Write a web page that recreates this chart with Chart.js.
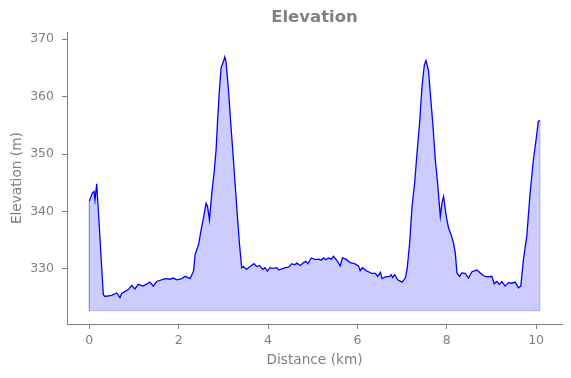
<!DOCTYPE html>
<html>
<head>
<meta charset="utf-8">
<script src="https://cdn.jsdelivr.net/npm/chart.js@4/dist/chart.umd.min.js"></script>
<style>
  body { margin: 0; background: #fff; }
</style>
</head>
<body>
<canvas id="myChart" width="571" height="378"></canvas>
<script>
// Distance along the route (km) and elevation (m)
var distance = [
  0.00, 0.067, 0.105, 0.127, 0.165, 0.188, 0.313, 0.351, 0.500, 0.612,
  0.686, 0.724, 0.871, 0.947, 1.021, 1.094, 1.206, 1.356, 1.430, 1.505,
  1.698, 1.803, 1.876, 1.959, 2.071, 2.144, 2.256, 2.332, 2.368, 2.444,
  2.495, 2.555, 2.613, 2.645, 2.689, 2.741, 2.792, 2.837, 2.868, 2.913,
  2.948, 3.002, 3.031, 3.060, 3.114, 3.165, 3.210, 3.261, 3.315, 3.359,
  3.411, 3.449, 3.522, 3.596, 3.686, 3.746, 3.806, 3.880, 3.931, 3.985,
  4.043, 4.103, 4.199, 4.237, 4.387, 4.461, 4.534, 4.595, 4.646, 4.722,
  4.796, 4.847, 4.892, 4.968, 5.057, 5.131, 5.191, 5.242, 5.294, 5.354,
  5.414, 5.466, 5.539, 5.615, 5.667, 5.740, 5.839, 5.935, 6.024, 6.062,
  6.113, 6.218, 6.330, 6.404, 6.455, 6.516, 6.553, 6.627, 6.723, 6.755,
  6.790, 6.835, 6.902, 7.000, 7.074, 7.112, 7.170, 7.224, 7.282, 7.335,
  7.393, 7.447, 7.498, 7.536, 7.594, 7.632, 7.693, 7.744, 7.795, 7.856,
  7.894, 7.929, 7.990, 8.041, 8.095, 8.153, 8.191, 8.229, 8.287, 8.340,
  8.413, 8.488, 8.564, 8.675, 8.765, 8.823, 8.912, 9.010, 9.062, 9.122,
  9.180, 9.234, 9.307, 9.381, 9.457, 9.531, 9.605, 9.658, 9.716, 9.792,
  9.866, 9.940, 10.000, 10.051, 10.089
];
var elevation = [
  341.8, 343.2, 343.5, 342.0, 344.8, 341.9, 325.5, 325.2, 325.4, 325.8,
  325.0, 325.7, 326.4, 327.1, 326.5, 327.3, 327.0, 327.7, 327.0, 327.8,
  328.3, 328.2, 328.4, 328.1, 328.3, 328.7, 328.3, 329.6, 332.5, 334.2,
  336.5, 338.9, 341.4, 340.9, 338.5, 343.2, 346.7, 350.7, 355.4, 361.2,
  365.0, 366.1, 366.9, 366.1, 361.2, 355.4, 350.7, 345.0, 339.1, 334.5,
  330.2, 330.4, 329.9, 330.4, 330.9, 330.4, 330.6, 329.9, 330.2, 329.6,
  330.2, 330.1, 330.2, 329.8, 330.2, 330.3, 330.9, 330.7, 331.0, 330.6,
  331.1, 331.3, 330.9, 331.9, 331.6, 331.7, 331.5, 331.9, 331.6, 331.9,
  331.7, 332.2, 331.5, 330.5, 331.9, 331.7, 331.1, 330.9, 330.5, 329.7,
  330.2, 329.6, 329.2, 329.2, 328.7, 329.4, 328.3, 328.6, 328.7, 329.0,
  328.5, 329.0, 328.1, 327.7, 328.4, 329.9, 334.5, 340.9, 345.0, 350.2,
  355.4, 361.8, 365.5, 366.3, 364.4, 360.6, 354.8, 349.0, 345.0, 339.1,
  341.5, 342.6, 339.1, 337.1, 336.0, 334.5, 332.8, 329.3, 328.7, 329.3,
  329.2, 328.4, 329.5, 329.8, 329.2, 328.8, 328.6, 328.7, 327.4, 327.8,
  327.3, 327.8, 327.0, 327.6, 327.5, 327.7, 326.7, 327.0, 331.6, 335.7,
  343.2, 349.0, 352.5, 355.7, 355.8
];
var fillBase = 322.7;
var xTicks = [0, 2, 4, 6, 8, 10];
var yTicks = [330, 340, 350, 360, 370];

var grey = "#808080";
var fontFamily = "'DejaVu Sans', sans-serif";

var profile = distance.map(function (d, i) {
  return { x: d, y: elevation[i] };
});
var last = distance.length - 1;
// outline of the filled area (sides and bottom)
var outline = [
  { x: distance[0], y: elevation[0] },
  { x: distance[0], y: fillBase },
  { x: distance[last], y: fillBase },
  { x: distance[last], y: elevation[last] },
];

var ctx = document.getElementById("myChart").getContext("2d");

var myChart = new Chart(ctx, {
  type: "line",
  data: {
    datasets: [
      {
        label: "Elevation",
        data: profile,
        borderColor: "#0000ff",
        borderWidth: 1.3,
        backgroundColor: "rgba(0, 0, 255, 0.2)",
        fill: { value: fillBase },
        pointRadius: 0,
        tension: 0,
      },
      {
        label: "outline",
        data: outline,
        borderColor: "rgba(0, 0, 255, 0.22)",
        borderWidth: 1,
        fill: false,
        pointRadius: 0,
      },
    ],
  },
  options: {
    responsive: false,
    animation: false,
    devicePixelRatio: 1,
    layout: { padding: { left: 0, right: 9, top: 0, bottom: 0 } },
    plugins: {
      legend: { display: false },
      tooltip: { enabled: false },
      title: {
        display: true,
        fullSize: false, // centre over the plot area, not the canvas
        text: "Elevation",
        color: grey,
        font: { family: fontFamily, size: 16.5, weight: "bold" },
        padding: { top: 8, bottom: 4.5 },
      },
    },
    scales: {
      x: {
        type: "linear",
        min: -0.5,
        max: 10.58,
        afterBuildTicks: function (scale) {
          scale.ticks = xTicks.map(function (v) { return { value: v }; });
        },
        afterFit: function (scale) {
          scale.height = 54;
        },
        grid: { drawOnChartArea: false, drawTicks: true, tickLength: 5, color: grey },
        border: { display: true, color: grey, width: 1 },
        ticks: { color: grey, font: { family: fontFamily, size: 12.5 }, padding: 4, maxRotation: 0 },
        title: {
          display: true,
          text: "Distance (km)",
          color: grey,
          font: { family: fontFamily, size: 13.7 },
          padding: { top: 0, bottom: 9 },
        },
      },
      y: {
        type: "linear",
        min: 320.4,
        max: 371.2,
        afterBuildTicks: function (scale) {
          scale.ticks = yTicks.map(function (v) { return { value: v }; });
        },
        afterFit: function (scale) {
          scale.width = 67;
        },
        grid: { drawOnChartArea: false, drawTicks: true, tickLength: 5, color: grey },
        border: { display: true, color: grey, width: 1 },
        ticks: { color: grey, font: { family: fontFamily, size: 12.5 }, padding: 8 },
        title: {
          display: true,
          text: "Elevation (m)",
          color: grey,
          font: { family: fontFamily, size: 13.7 },
          padding: { top: 9, bottom: 0 },
        },
      },
    },
  },
});
</script>
</body>
</html>
